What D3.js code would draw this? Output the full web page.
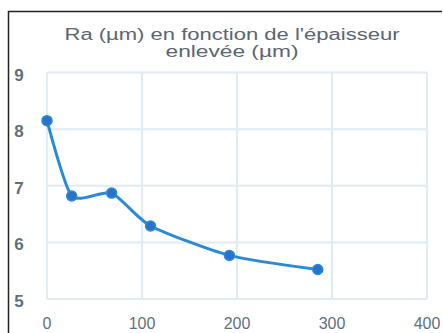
<!DOCTYPE html>
<html>
<head>
<meta charset="utf-8">
<script src="https://cdn.jsdelivr.net/npm/d3@7"></script>
<style>
  body { margin: 0; background: #fff; }
  svg text { font-family: "Liberation Sans", Arial, sans-serif; }
</style>
</head>
<body>
<div id="chart"></div>
<script>
// data
let thickness = [0, 26, 68, 109, 192, 285];
let roughness = [8.15, 6.82, 6.87, 6.29, 5.77, 5.52];
let xTicks = [0, 100, 200, 300, 400];
let yTicks = [5, 6, 7, 8, 9];
let titleLines = ["Ra (\u00b5m) en fonction de l'\u00e9paisseur", "enlev\u00e9e (\u00b5m)"];
let titleWidths = [335, 133];

let width = 443, height = 333;
let margin = {top: 72.5, right: 16, bottom: 34, left: 47};

let svg = d3.select("#chart").append("svg")
    .attr("width", width)
    .attr("height", height);

// frame (left and top only are visible)
svg.append("path")
    .attr("d", "M8.5,333 V11.5 H442")
    .attr("fill", "none")
    .attr("stroke", "#222")
    .attr("stroke-width", 1.5);

let x = d3.scaleLinear().domain([0, 400]).range([margin.left, width - margin.right]);
let y = d3.scaleLinear().domain([5, 9]).range([height - margin.bottom, margin.top]);

// grid
svg.append("g").selectAll("line")
    .data(xTicks)
    .enter().append("line")
    .attr("x1", d => x(d)).attr("x2", d => x(d))
    .attr("y1", y(9)).attr("y2", y(5))
    .attr("stroke", "#e0ebf2")
    .attr("stroke-width", 2);

svg.append("g").selectAll("line")
    .data(yTicks)
    .enter().append("line")
    .attr("x1", x(0)).attr("x2", x(400))
    .attr("y1", d => y(d)).attr("y2", d => y(d))
    .attr("stroke", "#e0ebf2")
    .attr("stroke-width", 2);

// axis labels
svg.append("g").selectAll("text")
    .data(yTicks)
    .enter().append("text")
    .attr("x", 19)
    .attr("y", d => y(d) + 8)
    .attr("text-anchor", "middle")
    .attr("font-size", 17)
    .attr("font-weight", "bold")
    .attr("fill", "#5f6f7c")
    .text(d => d);

svg.append("g").selectAll("text")
    .data(xTicks)
    .enter().append("text")
    .attr("x", d => x(d))
    .attr("y", 329)
    .attr("text-anchor", "middle")
    .attr("font-size", 16)
    .attr("fill", "#5f6f7c")
    .text(d => d);

// title (the picture is stretched sideways, so fit the measured width)
svg.append("g").selectAll("text")
    .data(titleLines)
    .enter().append("text")
    .attr("x", (d, i) => 232 - titleWidths[i] / 2)
    .attr("y", (d, i) => 40 + i * 17)
    .attr("textLength", (d, i) => titleWidths[i])
    .attr("lengthAdjust", "spacingAndGlyphs")
    .attr("font-size", 16)
    .attr("fill", "#5a6670")
    .text(d => d);

// lightly smoothed line + markers
let points = thickness.map((t, i) => [t, roughness[i]]);
let line = d3.line()
    .x(d => x(d[0]))
    .y(d => y(d[1]))
    .curve(d3.curveCardinal.tension(0.35));

svg.append("path")
    .datum(points)
    .attr("d", line)
    .attr("fill", "none")
    .attr("stroke", "#2a8ad6")
    .attr("stroke-width", 3);

svg.append("g").selectAll("circle")
    .data(points)
    .enter().append("circle")
    .attr("cx", d => x(d[0]))
    .attr("cy", d => y(d[1]))
    .attr("r", 5)
    .attr("fill", "#2773c8")
    .attr("stroke", "#2a8ad6")
    .attr("stroke-width", 1.5);
</script>
</body>
</html>
